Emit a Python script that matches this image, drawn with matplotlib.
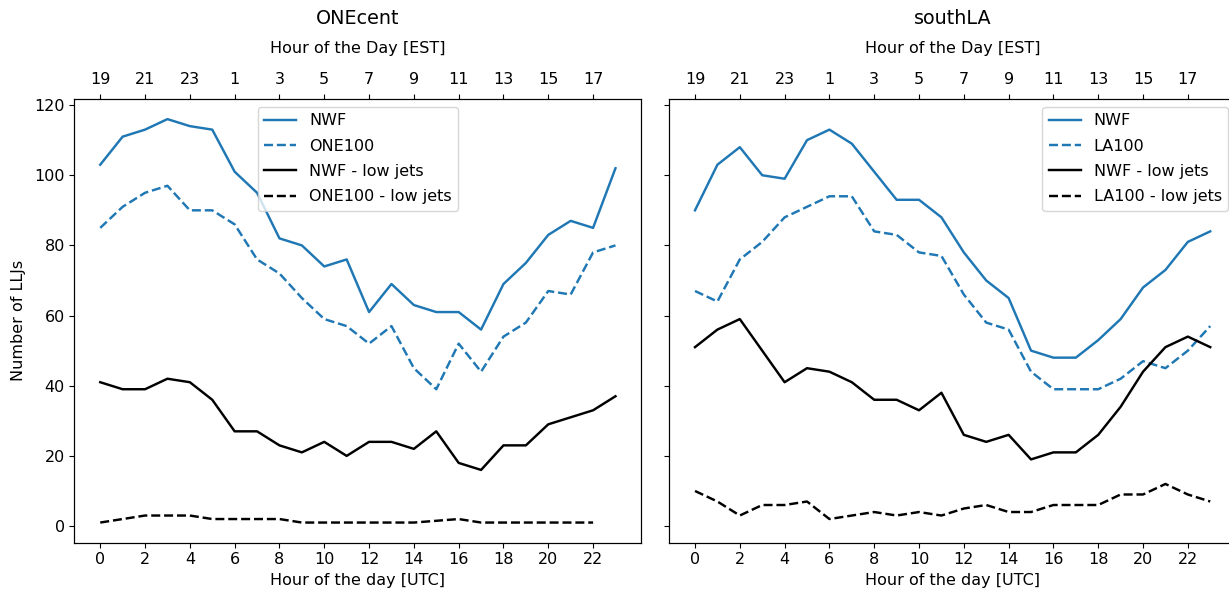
import numpy as np
import matplotlib
matplotlib.use("Agg")
import matplotlib.pyplot as plt

plt.rcParams["font.size"] = 11.5
plt.rcParams["lines.linewidth"] = 1.75

hours = list(range(24))
est_ticks = list(range(0, 24, 2))
est_labels = [str((h - 5) % 24) for h in est_ticks]

# ONEcent
one_nwf = [103, 111, 113, 116, 114, 113, 101, 95, 82, 80, 74, 76, 61, 69, 63, 61, 61, 56, 69, 75, 83, 87, 85, 102]
one_100 = [85, 91, 95, 97, 90, 90, 86, 76, 72, 65, 59, 57, 52, 57, 45, 39, 52, 44, 54, 58, 67, 66, 78, 80]
one_nwf_low = [41, 39, 39, 42, 41, 36, 27, 27, 23, 21, 24, 20, 24, 24, 22, 27, 18, 16, 23, 23, 29, 31, 33, 37]
one_100_low = [1, 2, 3, 3, 3, 2, 2, 2, 2, 1, 1, 1, 1, 1, 1, 1.5, 2, 1, 1, 1, 1, 1, 1]

# southLA
la_nwf = [90, 103, 108, 100, 99, 110, 113, 109, 101, 93, 93, 88, 78, 70, 65, 50, 48, 48, 53, 59, 68, 73, 81, 84]
la_100 = [67, 64, 76, 81, 88, 91, 94, 94, 84, 83, 78, 77, 66, 58, 56, 44, 39, 39, 39, 42, 47, 45, 50, 57]
la_nwf_low = [51, 56, 59, 50, 41, 45, 44, 41, 36, 36, 33, 38, 26, 24, 26, 19, 21, 21, 26, 34, 44, 51, 54, 51]
la_100_low = [10, 7, 3, 6, 6, 7, 2, 3, 4, 3, 4, 3, 5, 6, 4, 4, 6, 6, 6, 9, 9, 12, 9, 7]

panels = [
    ("ONEcent", "ONE100", one_nwf, one_100, one_nwf_low, one_100_low, "upper center"),
    ("southLA", "LA100", la_nwf, la_100, la_nwf_low, la_100_low, "upper right"),
]

fig, axes = plt.subplots(1, 2, figsize=(12.29, 5.96), dpi=100, sharey=True)
# the right panel runs a little past the figure edge, as in the original
fig.subplots_adjust(left=0.0606, right=1.0057, bottom=0.0894, top=0.834, wspace=0.0494)

blue = "#1f77b4"
for ax, (title, name, nwf, v100, nwf_low, v100_low, loc) in zip(axes, panels):
    ax.plot(hours[:len(nwf)], nwf, color=blue, linestyle="-", label="NWF")
    ax.plot(hours[:len(v100)], v100, color=blue, linestyle="--", label=name)
    ax.plot(hours[:len(nwf_low)], nwf_low, color="black", linestyle="-", label="NWF - low jets")
    ax.plot(hours[:len(v100_low)], v100_low, color="black", linestyle="--", label=name + " - low jets")
    ax.set_xticks(est_ticks)
    ax.set_xlabel("Hour of the day [UTC]", labelpad=4)
    ax.legend(loc=loc, labelspacing=0.65)

    top = ax.twiny()
    top.set_xlim(ax.get_xlim())
    top.set_xticks(est_ticks)
    top.set_xticklabels(est_labels)
    top.tick_params(axis="x", pad=5)
    top.set_xlabel("Hour of the Day [EST]", labelpad=14)
    top.set_title(title, pad=12, fontsize=13.8)

axes[0].set_ylabel("Number of LLJs", labelpad=6)
axes[0].set_yticks(range(0, 121, 20))

fig.savefig("out.png", dpi=100)
